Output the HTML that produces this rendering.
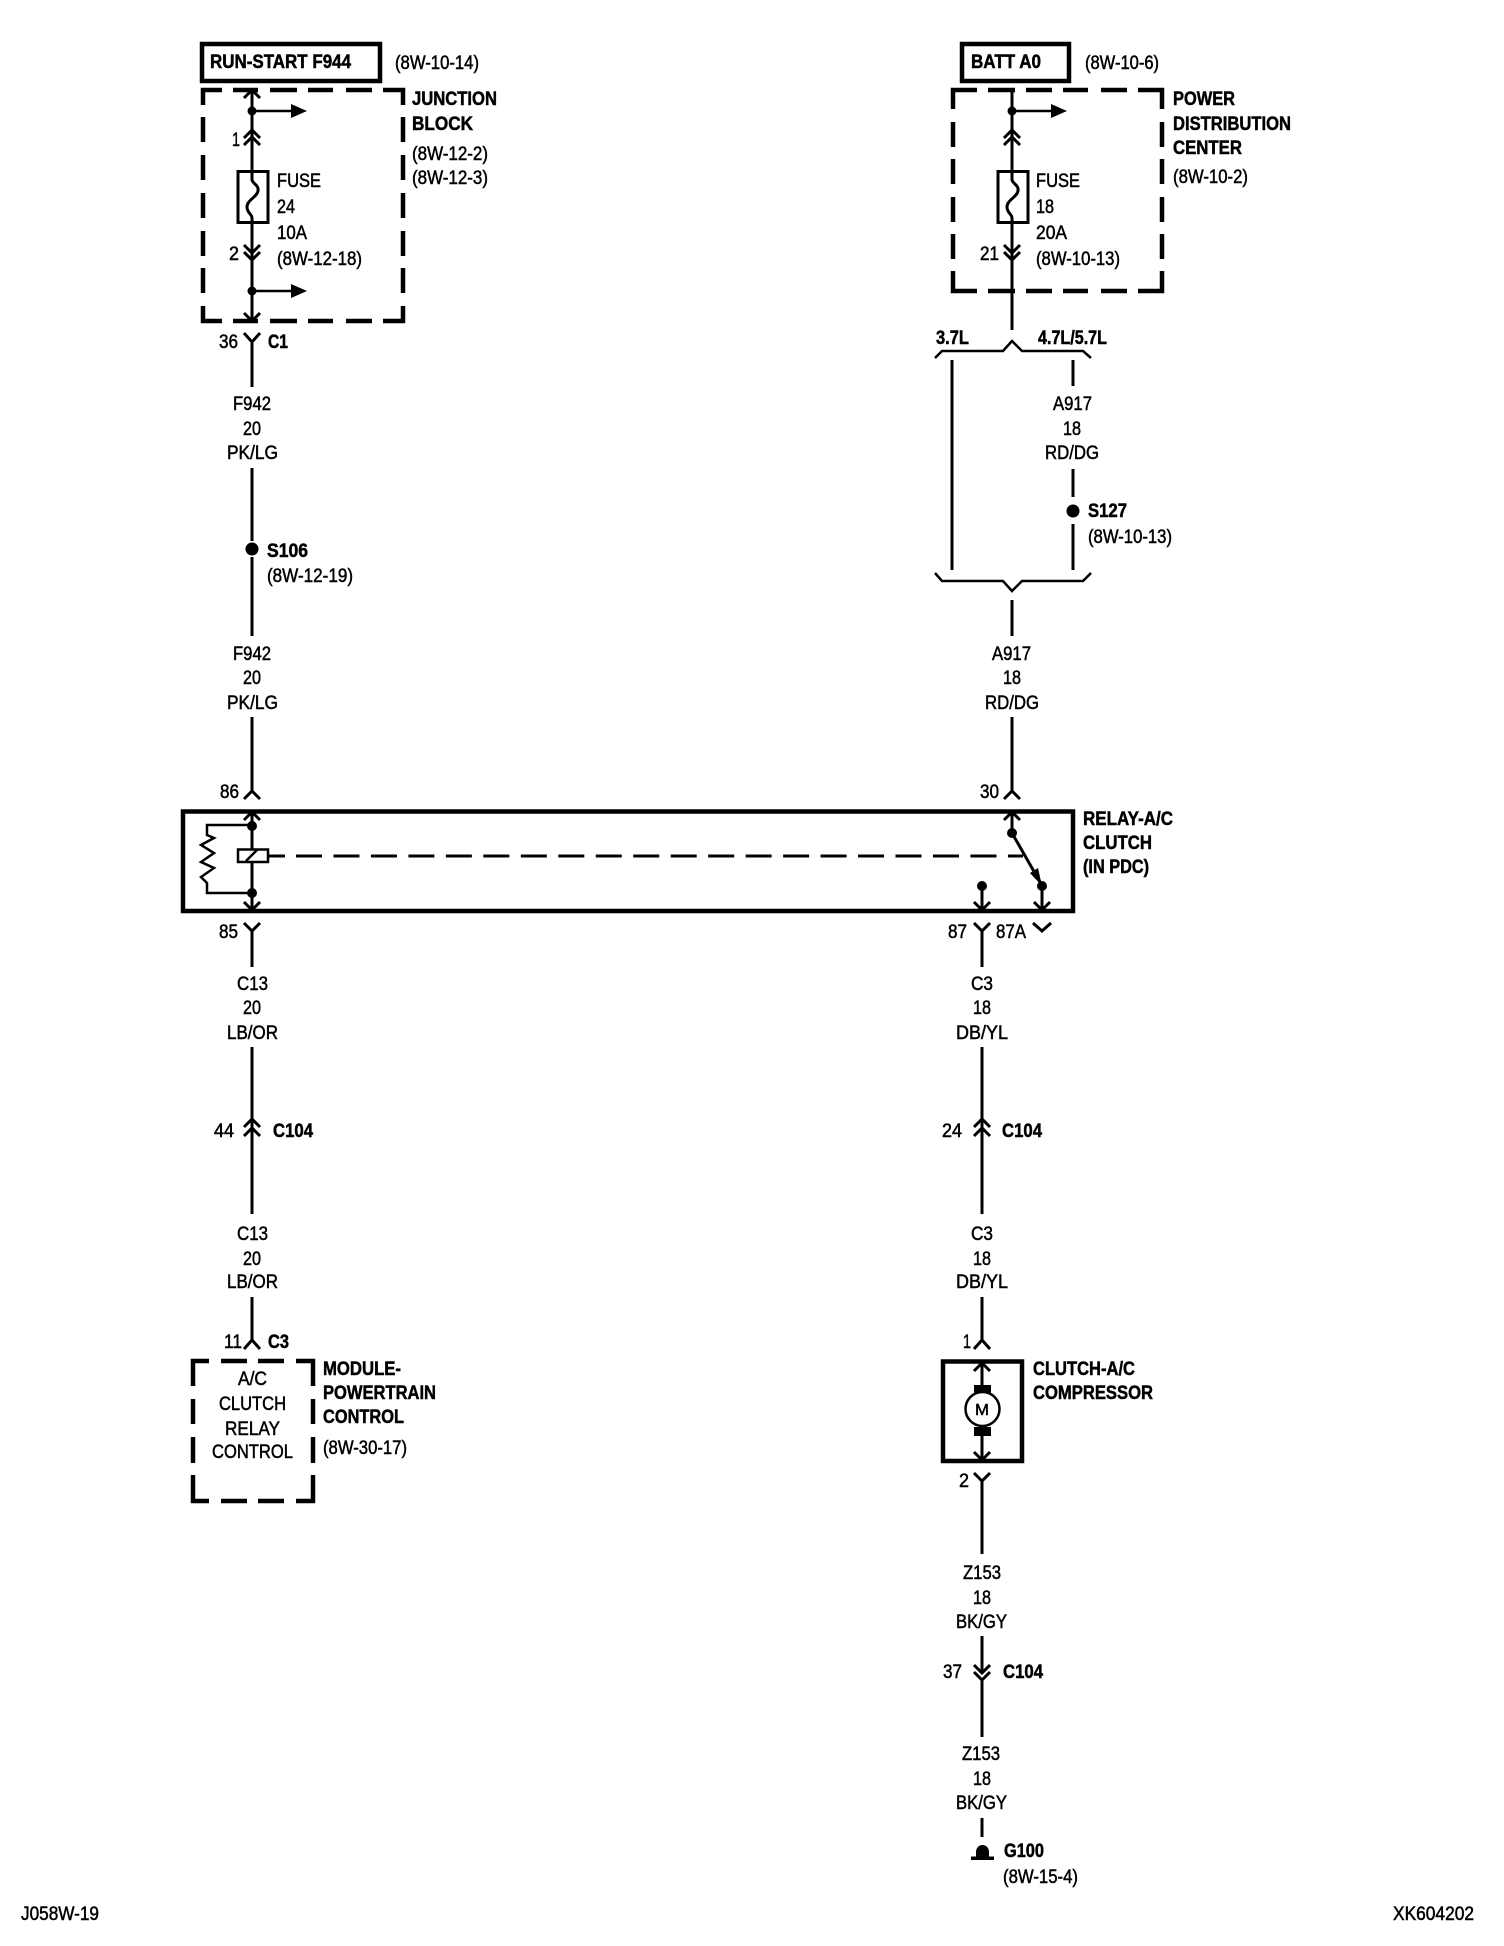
<!DOCTYPE html>
<html><head><meta charset="utf-8"><style>
html,body{margin:0;padding:0;background:#fff}
svg{display:block}
text{font-family:"Liberation Sans",Arial,sans-serif;font-size:19px;fill:#000}
.b{font-weight:bold;stroke:#000;stroke-width:.5px}
.r{stroke:#000;stroke-width:.5px}
.w{fill:none;stroke:#000;stroke-width:3}
.d{fill:none;stroke:#000;stroke-width:4.5}
.s{fill:none;stroke:#000;stroke-width:2.5}
</style></head><body>
<svg width="1504" height="1946" viewBox="0 0 1504 1946" xmlns="http://www.w3.org/2000/svg">
<rect width="1504" height="1946" fill="#fff"/>
<!-- top boxes -->
<rect x="202" y="44" width="178" height="37" class="d"/>
<rect x="962" y="44" width="107" height="37" class="d"/>
<!-- junction block dashed -->
<path class="d" d="M222 90H203V105M233 90H258M270 90H297M308 90H333M346 90H372M383 90H403V105M203 117V142M203 155V180M203 193V218M203 231V256M203 268V293M203 306V321H222M233 321H258M270 321H297M308 321H333M346 321H372M383 321H403V306M403 117V142M403 155V180M403 193V218M403 231V256M403 268V293"/>
<!-- PDC dashed -->
<path class="d" d="M977 90H953V109M988 90H1015M1026 90H1052M1063 90H1088M1101 90H1127M1138 90H1162V109M953 122V147M953 159V184M953 197V222M953 234V259M953 271V291H977M988 291H1015M1026 291H1052M1063 291H1088M1101 291H1127M1138 291H1162V271M1162 122V147M1162 159V184M1162 197V222M1162 234V259"/>
<!-- PCM dashed -->
<path class="d" d="M209 1361H193V1386M221 1361H247M258 1361H284M296 1361H313V1386M193 1399V1424M193 1437V1463M193 1475V1501H209M221 1501H247M258 1501H284M296 1501H313V1475M313 1399V1424M313 1437V1463"/>
<!-- left wire upper -->
<path class="w" d="M252 90V171M252 223V321M252 342V387M252 468V541M252 557V636M252 717V791"/>
<path class="w" d="M244 98L252 90L260 98M244 138L252 130L260 138M244 145L252 137L260 145M244 245L252 253L260 245M244 252L252 260L260 252M244 313L252 321L260 313M244 333L252 342L260 333M244 799L252 791L260 799"/>
<rect x="238" y="171.500" width="30" height="51" class="w"/>
<path class="w" d="M252 171V180C253 184 259 185 258 191C257 197 247 200 247 207C247 213 252 214 252 218V223"/>
<circle cx="252" cy="111" r="4.500"/><circle cx="252" cy="291" r="4.500"/>
<path d="M252 111H292" class="s"/><path d="M291 104L307 111L291 118Z"/>
<path d="M252 291H292" class="s"/><path d="M291 284L307 291L291 298Z"/>
<circle cx="252" cy="549" r="6.500"/>
<!-- right wire upper -->
<path class="w" d="M1012 90V171M1012 223V330M1012 600V636M1012 717V791"/>
<path class="w" d="M1004 138L1012 130L1020 138M1004 145L1012 137L1020 145M1004 245L1012 253L1020 245M1004 252L1012 260L1020 252M1004 799L1012 791L1020 799"/>
<rect x="998" y="171.500" width="30" height="51" class="w"/>
<path class="w" d="M1012 171V180C1013 184 1019 185 1018 191C1017 197 1007 200 1007 207C1007 213 1012 214 1012 218V223"/>
<circle cx="1012" cy="111" r="4.500"/>
<path d="M1012 111H1052" class="s"/><path d="M1051 104L1067 111L1051 118Z"/>
<!-- braces -->
<path class="s" d="M935 358L942 351H1003L1012 341L1022 351H1083L1091 358"/>
<path class="s" d="M935 573L942 581H1003L1012 591L1022 581H1083L1091 573"/>
<path class="w" d="M952 360V570M1073 360V386M1073 469V497M1073 524V570"/>
<circle cx="1073" cy="511" r="6.500"/>
<!-- relay -->
<path d="M183 811.500H1073V911H183Z" fill="none" stroke="#000" stroke-width="4.500"/>
<path class="w" d="M252 812V849M252 862V910M244 820L252 812L260 820M244 902L252 910L260 902"/>
<circle cx="252" cy="826" r="5"/><circle cx="252" cy="893" r="5"/>
<path class="s" d="M252 825H207V835L214 838L201 845L214 853L201 862L214 868L201 877L207 883V893H252"/>
<rect x="238" y="849.500" width="30" height="12.500" class="s" fill="#fff"/>
<path class="s" d="M246 861L257 850"/>
<path class="w" d="M269 856H285"/>
<path class="w" stroke-dasharray="26 11.470" d="M296 856H1023"/>
<path class="w" d="M1012 812V833M1004 820L1012 812L1020 820"/>
<circle cx="1012" cy="833" r="5"/>
<path class="w" d="M1012 833L1040 882"/>
<path d="M1030 873L1038 868L1042 886Z"/>
<circle cx="1042" cy="886" r="5"/><circle cx="982" cy="886" r="5"/>
<path class="w" d="M1042 886V910M982 886V910M1034 902L1042 910L1050 902M974 902L982 910L990 902"/>
<!-- below relay -->
<path class="w" d="M244 923L252 931L260 923M252 930V967M974 923L982 931L990 923M982 930V967M1033 923L1042 931L1051 923"/>
<path class="w" d="M252 1047V1214M982 1047V1214"/>
<path class="w" d="M244 1127L252 1119L260 1127M244 1136L252 1128L260 1136M974 1127L982 1119L990 1127M974 1136L982 1128L990 1136"/>
<path class="w" d="M252 1297V1341M244 1349L252 1340L260 1349M982 1297V1341M974 1349L982 1340L990 1349"/>
<!-- clutch -->
<rect x="943" y="1361.500" width="79" height="99.500" fill="none" stroke="#000" stroke-width="4.500"/>
<path class="w" d="M982 1363V1391M982 1430V1460M974 1371L982 1363L990 1371M974 1452L982 1460L990 1452"/>
<rect x="974" y="1385" width="17" height="9"/><rect x="974" y="1427" width="17" height="9"/>
<circle cx="982.500" cy="1409" r="17" fill="#fff" stroke="#000" stroke-width="2.500"/>
<path class="w" d="M974 1473L982 1481L990 1473M982 1480V1554"/>
<path class="w" d="M982 1636V1673M974 1665L982 1673L990 1665M974 1672L982 1680L990 1672M982 1680V1737M982 1818V1837"/>
<path d="M971 1856.500H994V1860H971Z"/><path d="M976 1857V1852C976 1848 979 1845 982.500 1845C986 1845 989 1848 989 1852V1857Z"/>

<!-- labels bold -->
<g>
<text class="b" x="210" y="68" textLength="141" lengthAdjust="spacingAndGlyphs">RUN-START F944</text>
<text class="b" x="971" y="68" textLength="70" lengthAdjust="spacingAndGlyphs">BATT A0</text>
<text class="b" x="412" y="105" textLength="85" lengthAdjust="spacingAndGlyphs">JUNCTION</text>
<text class="b" x="412" y="130" textLength="61" lengthAdjust="spacingAndGlyphs">BLOCK</text>
<text class="b" x="1173" y="105" textLength="62" lengthAdjust="spacingAndGlyphs">POWER</text>
<text class="b" x="1173" y="130" textLength="118" lengthAdjust="spacingAndGlyphs">DISTRIBUTION</text>
<text class="b" x="1173" y="154" textLength="69" lengthAdjust="spacingAndGlyphs">CENTER</text>
<text class="b" x="268" y="348" textLength="20" lengthAdjust="spacingAndGlyphs">C1</text>
<text class="b" x="936" y="344" textLength="33" lengthAdjust="spacingAndGlyphs">3.7L</text>
<text class="b" x="1038" y="344" textLength="69" lengthAdjust="spacingAndGlyphs">4.7L/5.7L</text>
<text class="b" x="1088" y="517" textLength="39" lengthAdjust="spacingAndGlyphs">S127</text>
<text class="b" x="267" y="557" textLength="41" lengthAdjust="spacingAndGlyphs">S106</text>
<text class="b" x="1083" y="825" textLength="90" lengthAdjust="spacingAndGlyphs">RELAY-A/C</text>
<text class="b" x="1083" y="849" textLength="69" lengthAdjust="spacingAndGlyphs">CLUTCH</text>
<text class="b" x="1083" y="873" textLength="66" lengthAdjust="spacingAndGlyphs">(IN PDC)</text>
<text class="b" x="273" y="1137" textLength="40" lengthAdjust="spacingAndGlyphs">C104</text>
<text class="b" x="1002" y="1137" textLength="40" lengthAdjust="spacingAndGlyphs">C104</text>
<text class="b" x="1003" y="1678" textLength="40" lengthAdjust="spacingAndGlyphs">C104</text>
<text class="b" x="268" y="1348" textLength="21" lengthAdjust="spacingAndGlyphs">C3</text>
<text class="b" x="323" y="1375" textLength="78" lengthAdjust="spacingAndGlyphs">MODULE-</text>
<text class="b" x="323" y="1399" textLength="113" lengthAdjust="spacingAndGlyphs">POWERTRAIN</text>
<text class="b" x="323" y="1423" textLength="81" lengthAdjust="spacingAndGlyphs">CONTROL</text>
<text class="b" x="1033" y="1375" textLength="102" lengthAdjust="spacingAndGlyphs">CLUTCH-A/C</text>
<text class="b" x="1033" y="1399" textLength="120" lengthAdjust="spacingAndGlyphs">COMPRESSOR</text>
<text class="b" x="1004" y="1857" textLength="40" lengthAdjust="spacingAndGlyphs">G100</text>
<text class="r" x="975" y="1415" textLength="14" lengthAdjust="spacingAndGlyphs" style="font-size:16px">M</text>
</g>
<!-- labels regular -->
<g>
<text class="r" x="395" y="69" textLength="84" lengthAdjust="spacingAndGlyphs">(8W-10-14)</text>
<text class="r" x="1085" y="69" textLength="74" lengthAdjust="spacingAndGlyphs">(8W-10-6)</text>
<text class="r" x="412" y="160" textLength="76" lengthAdjust="spacingAndGlyphs">(8W-12-2)</text>
<text class="r" x="412" y="184" textLength="76" lengthAdjust="spacingAndGlyphs">(8W-12-3)</text>
<text class="r" x="1173" y="183" textLength="75" lengthAdjust="spacingAndGlyphs">(8W-10-2)</text>
<text class="r" x="232" y="146" textLength="8" lengthAdjust="spacingAndGlyphs">1</text>
<text class="r" x="229" y="260" textLength="10" lengthAdjust="spacingAndGlyphs">2</text>
<text class="r" x="277" y="187" textLength="44" lengthAdjust="spacingAndGlyphs">FUSE</text>
<text class="r" x="277" y="213" textLength="18" lengthAdjust="spacingAndGlyphs">24</text>
<text class="r" x="277" y="239" textLength="30" lengthAdjust="spacingAndGlyphs">10A</text>
<text class="r" x="277" y="265" textLength="85" lengthAdjust="spacingAndGlyphs">(8W-12-18)</text>
<text class="r" x="1036" y="187" textLength="44" lengthAdjust="spacingAndGlyphs">FUSE</text>
<text class="r" x="1036" y="213" textLength="18" lengthAdjust="spacingAndGlyphs">18</text>
<text class="r" x="1036" y="239" textLength="31" lengthAdjust="spacingAndGlyphs">20A</text>
<text class="r" x="1036" y="265" textLength="84" lengthAdjust="spacingAndGlyphs">(8W-10-13)</text>
<text class="r" x="980" y="260" textLength="19" lengthAdjust="spacingAndGlyphs">21</text>
<text class="r" x="219" y="348" textLength="19" lengthAdjust="spacingAndGlyphs">36</text>
<text class="r" x="233" y="410" textLength="38" lengthAdjust="spacingAndGlyphs">F942</text>
<text class="r" x="243" y="435" textLength="18" lengthAdjust="spacingAndGlyphs">20</text>
<text class="r" x="227" y="459" textLength="51" lengthAdjust="spacingAndGlyphs">PK/LG</text>
<text class="r" x="267" y="582" textLength="86" lengthAdjust="spacingAndGlyphs">(8W-12-19)</text>
<text class="r" x="233" y="660" textLength="38" lengthAdjust="spacingAndGlyphs">F942</text>
<text class="r" x="243" y="684" textLength="18" lengthAdjust="spacingAndGlyphs">20</text>
<text class="r" x="227" y="709" textLength="51" lengthAdjust="spacingAndGlyphs">PK/LG</text>
<text class="r" x="1053" y="410" textLength="39" lengthAdjust="spacingAndGlyphs">A917</text>
<text class="r" x="1063" y="435" textLength="18" lengthAdjust="spacingAndGlyphs">18</text>
<text class="r" x="1045" y="459" textLength="54" lengthAdjust="spacingAndGlyphs">RD/DG</text>
<text class="r" x="1088" y="543" textLength="84" lengthAdjust="spacingAndGlyphs">(8W-10-13)</text>
<text class="r" x="992" y="660" textLength="39" lengthAdjust="spacingAndGlyphs">A917</text>
<text class="r" x="1003" y="684" textLength="18" lengthAdjust="spacingAndGlyphs">18</text>
<text class="r" x="985" y="709" textLength="54" lengthAdjust="spacingAndGlyphs">RD/DG</text>
<text class="r" x="220" y="798" textLength="19" lengthAdjust="spacingAndGlyphs">86</text>
<text class="r" x="219" y="938" textLength="19" lengthAdjust="spacingAndGlyphs">85</text>
<text class="r" x="980" y="798" textLength="19" lengthAdjust="spacingAndGlyphs">30</text>
<text class="r" x="948" y="938" textLength="19" lengthAdjust="spacingAndGlyphs">87</text>
<text class="r" x="996" y="938" textLength="30" lengthAdjust="spacingAndGlyphs">87A</text>
<text class="r" x="237" y="990" textLength="31" lengthAdjust="spacingAndGlyphs">C13</text>
<text class="r" x="243" y="1014" textLength="18" lengthAdjust="spacingAndGlyphs">20</text>
<text class="r" x="227" y="1039" textLength="51" lengthAdjust="spacingAndGlyphs">LB/OR</text>
<text class="r" x="214" y="1137" textLength="20" lengthAdjust="spacingAndGlyphs">44</text>
<text class="r" x="237" y="1240" textLength="31" lengthAdjust="spacingAndGlyphs">C13</text>
<text class="r" x="243" y="1265" textLength="18" lengthAdjust="spacingAndGlyphs">20</text>
<text class="r" x="227" y="1288" textLength="51" lengthAdjust="spacingAndGlyphs">LB/OR</text>
<text class="r" x="971" y="990" textLength="22" lengthAdjust="spacingAndGlyphs">C3</text>
<text class="r" x="973" y="1014" textLength="18" lengthAdjust="spacingAndGlyphs">18</text>
<text class="r" x="956" y="1039" textLength="52" lengthAdjust="spacingAndGlyphs">DB/YL</text>
<text class="r" x="942" y="1137" textLength="20" lengthAdjust="spacingAndGlyphs">24</text>
<text class="r" x="971" y="1240" textLength="22" lengthAdjust="spacingAndGlyphs">C3</text>
<text class="r" x="973" y="1265" textLength="18" lengthAdjust="spacingAndGlyphs">18</text>
<text class="r" x="956" y="1288" textLength="52" lengthAdjust="spacingAndGlyphs">DB/YL</text>
<text class="r" x="224" y="1348" textLength="18" lengthAdjust="spacingAndGlyphs">11</text>
<text class="r" x="238" y="1385" textLength="29" lengthAdjust="spacingAndGlyphs">A/C</text>
<text class="r" x="219" y="1410" textLength="67" lengthAdjust="spacingAndGlyphs">CLUTCH</text>
<text class="r" x="225" y="1435" textLength="55" lengthAdjust="spacingAndGlyphs">RELAY</text>
<text class="r" x="212" y="1458" textLength="81" lengthAdjust="spacingAndGlyphs">CONTROL</text>
<text class="r" x="323" y="1454" textLength="84" lengthAdjust="spacingAndGlyphs">(8W-30-17)</text>
<text class="r" x="963" y="1348" textLength="8" lengthAdjust="spacingAndGlyphs">1</text>
<text class="r" x="959" y="1487" textLength="10" lengthAdjust="spacingAndGlyphs">2</text>
<text class="r" x="963" y="1579" textLength="38" lengthAdjust="spacingAndGlyphs">Z153</text>
<text class="r" x="973" y="1604" textLength="18" lengthAdjust="spacingAndGlyphs">18</text>
<text class="r" x="956" y="1628" textLength="51" lengthAdjust="spacingAndGlyphs">BK/GY</text>
<text class="r" x="943" y="1678" textLength="19" lengthAdjust="spacingAndGlyphs">37</text>
<text class="r" x="962" y="1760" textLength="38" lengthAdjust="spacingAndGlyphs">Z153</text>
<text class="r" x="973" y="1785" textLength="18" lengthAdjust="spacingAndGlyphs">18</text>
<text class="r" x="956" y="1809" textLength="51" lengthAdjust="spacingAndGlyphs">BK/GY</text>
<text class="r" x="1003" y="1883" textLength="75" lengthAdjust="spacingAndGlyphs">(8W-15-4)</text>
<text class="r" x="21" y="1920" textLength="78" lengthAdjust="spacingAndGlyphs">J058W-19</text>
<text class="r" x="1393" y="1920" textLength="81" lengthAdjust="spacingAndGlyphs">XK604202</text>
</g>
</svg>
</body></html>
